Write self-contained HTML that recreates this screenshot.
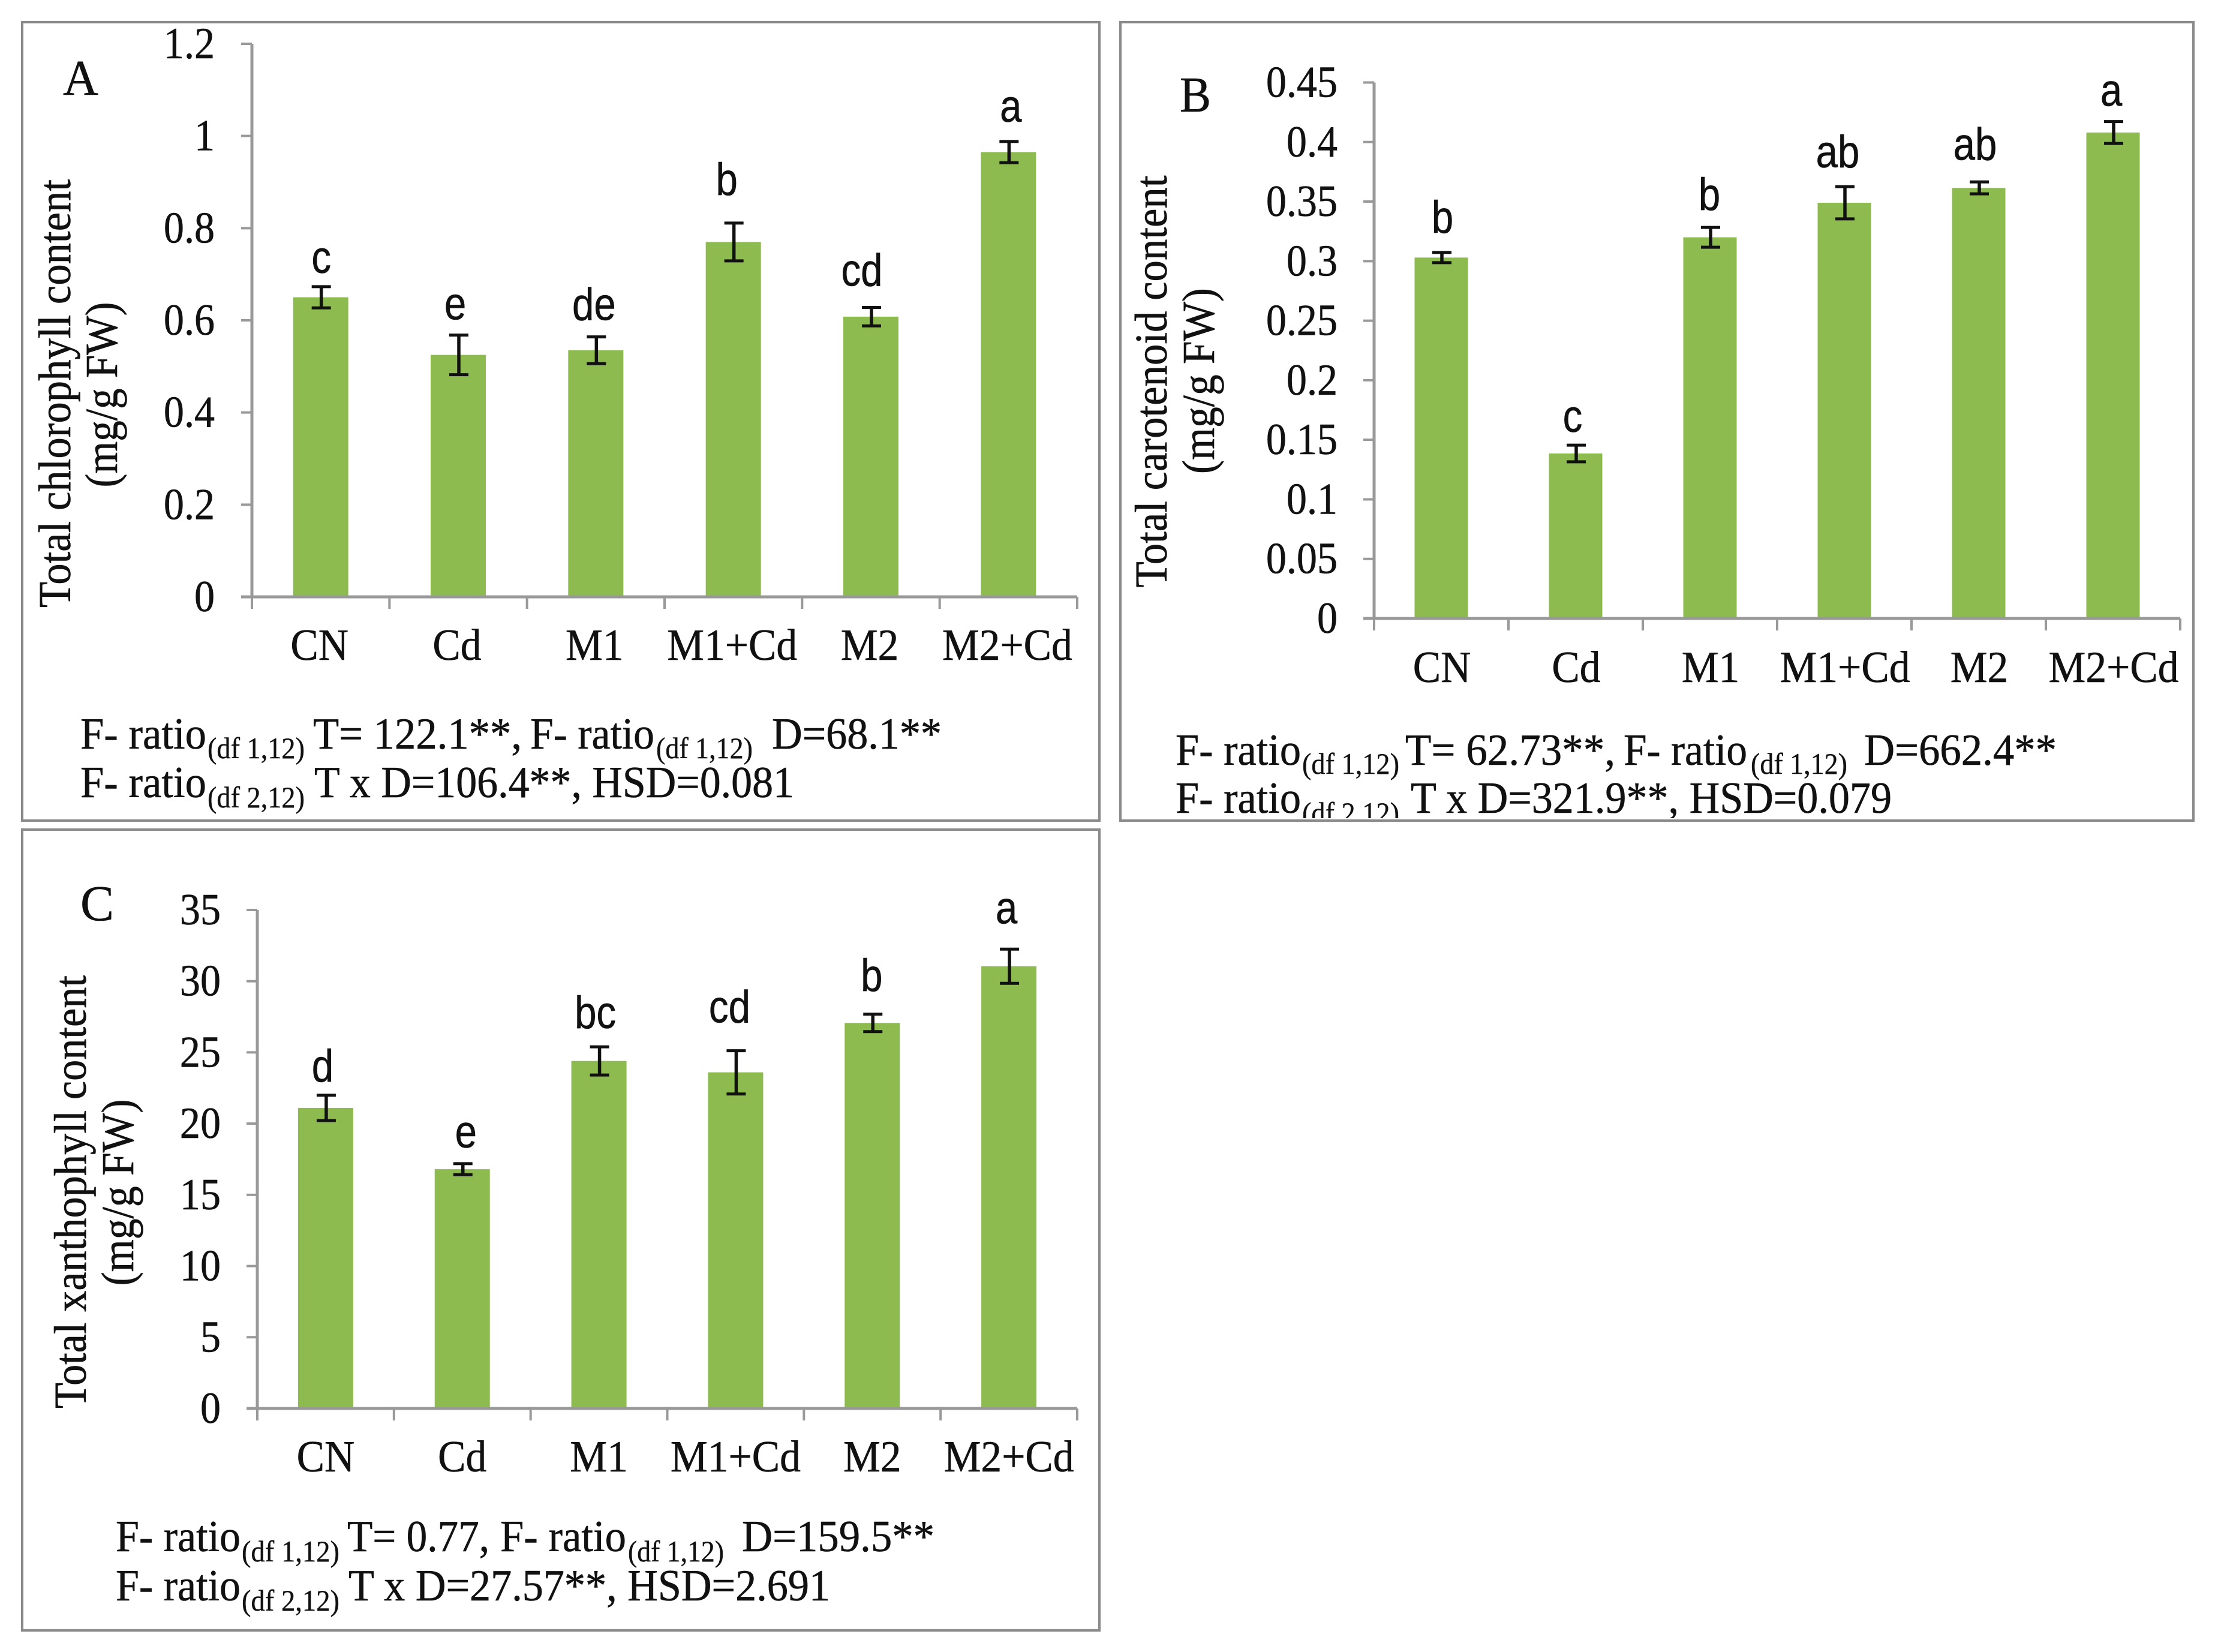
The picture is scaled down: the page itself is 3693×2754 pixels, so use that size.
<!DOCTYPE html>
<html lang="en">
<head>
<meta charset="utf-8">
<title>Pigment content charts</title>
<style>
html,body{margin:0;padding:0;background:#fff;}
svg{display:block;}
.s{font-family:"Liberation Serif",serif;fill:#111;stroke:#111;stroke-width:0.6px;}
.st{font-family:"Liberation Serif",serif;fill:#111;font-size:74px;stroke:#111;stroke-width:0.6px;}
.sb{font-family:"Liberation Serif",serif;fill:#111;font-size:50px;stroke:#111;stroke-width:0.4px;}
.ttl{font-family:"Liberation Serif",serif;fill:#111;font-size:76px;stroke:#111;stroke-width:0.6px;}
.pl{font-family:"Liberation Serif",serif;fill:#111;font-size:84px;stroke:#111;stroke-width:0.6px;}
</style>
</head>
<body>
<svg id="fig" xmlns="http://www.w3.org/2000/svg" width="3693" height="2754" viewBox="0 0 3693 2754">
<defs><clipPath id="clipB"><rect x="1868" y="37" width="1789" height="1327"/></clipPath></defs>
<rect x="0" y="0" width="3693" height="2754" fill="#fff"/>

<g id="panelA">
<text class="pl" x="105" y="158" textLength="59" lengthAdjust="spacingAndGlyphs">A</text>
<text class="ttl" transform="rotate(-90 117 656)" x="117" y="656" text-anchor="middle" textLength="714" lengthAdjust="spacingAndGlyphs">Total chlorophyll content</text>
<text class="ttl" transform="rotate(-90 195 658)" x="195" y="658" text-anchor="middle" textLength="309" lengthAdjust="spacingAndGlyphs">(mg/g FW)</text>
<g>
<text class="st" x="134" y="1248" textLength="210" lengthAdjust="spacingAndGlyphs">F- ratio</text>
<text class="sb" x="346" y="1264" textLength="162" lengthAdjust="spacingAndGlyphs">(df 1,12)</text>
<text class="st" x="522" y="1248" textLength="348" lengthAdjust="spacingAndGlyphs">T= 122.1**,</text>
<text class="st" x="884" y="1248" textLength="207" lengthAdjust="spacingAndGlyphs">F- ratio</text>
<text class="sb" x="1094" y="1264" textLength="161" lengthAdjust="spacingAndGlyphs">(df 1,12)</text>
<text class="st" x="1287" y="1248" textLength="283" lengthAdjust="spacingAndGlyphs">D=68.1**</text>
<text class="st" x="134" y="1329" textLength="210" lengthAdjust="spacingAndGlyphs">F- ratio</text>
<text class="sb" x="346" y="1346" textLength="162" lengthAdjust="spacingAndGlyphs">(df 2,12)</text>
<text class="st" x="524" y="1329" textLength="800" lengthAdjust="spacingAndGlyphs">T x D=106.4**, HSD=0.081</text>
</g>
<rect x="37" y="37" width="1796" height="1331" fill="none" stroke="#8a8a8a" stroke-width="4"/>
</g>

<g id="panelB">
<text class="pl" x="1967" y="186" textLength="52" lengthAdjust="spacingAndGlyphs">B</text>
<text class="ttl" transform="rotate(-90 1945 636)" x="1945" y="636" text-anchor="middle" textLength="687" lengthAdjust="spacingAndGlyphs">Total carotenoid content</text>
<text class="ttl" transform="rotate(-90 2024 635)" x="2024" y="635" text-anchor="middle" textLength="310" lengthAdjust="spacingAndGlyphs">(mg/g FW)</text>
<g clip-path="url(#clipB)">
<text class="st" x="1960" y="1275" textLength="209" lengthAdjust="spacingAndGlyphs">F- ratio</text>
<text class="sb" x="2171" y="1290" textLength="162" lengthAdjust="spacingAndGlyphs">(df 1,12)</text>
<text class="st" x="2343" y="1275" textLength="350" lengthAdjust="spacingAndGlyphs">T= 62.73**,</text>
<text class="st" x="2707" y="1275" textLength="206" lengthAdjust="spacingAndGlyphs">F- ratio</text>
<text class="sb" x="2919" y="1290" textLength="161" lengthAdjust="spacingAndGlyphs">(df 1,12)</text>
<text class="st" x="3108" y="1275" textLength="321" lengthAdjust="spacingAndGlyphs">D=662.4**</text>
<text class="st" x="1960" y="1355" textLength="209" lengthAdjust="spacingAndGlyphs">F- ratio</text>
<text class="sb" x="2171" y="1372" textLength="162" lengthAdjust="spacingAndGlyphs">(df 2,12)</text>
<text class="st" x="2352" y="1355" textLength="802" lengthAdjust="spacingAndGlyphs">T x D=321.9**, HSD=0.079</text>
</g>
<rect x="1868" y="37" width="1789" height="1331" fill="none" stroke="#8a8a8a" stroke-width="4"/>
</g>

<g id="panelC">
<text class="pl" x="134" y="1534" textLength="56" lengthAdjust="spacingAndGlyphs">C</text>
<text class="ttl" transform="rotate(-90 143 1987)" x="143" y="1987" text-anchor="middle" textLength="722" lengthAdjust="spacingAndGlyphs">Total xanthophyll content</text>
<text class="ttl" transform="rotate(-90 222 1988)" x="222" y="1988" text-anchor="middle" textLength="311" lengthAdjust="spacingAndGlyphs">(mg/g FW)</text>
<g>
<text class="st" x="193" y="2586" textLength="208" lengthAdjust="spacingAndGlyphs">F- ratio</text>
<text class="sb" x="403" y="2603" textLength="163" lengthAdjust="spacingAndGlyphs">(df 1,12)</text>
<text class="st" x="579" y="2586" textLength="237" lengthAdjust="spacingAndGlyphs">T= 0.77,</text>
<text class="st" x="834" y="2586" textLength="210" lengthAdjust="spacingAndGlyphs">F- ratio</text>
<text class="sb" x="1047" y="2603" textLength="160" lengthAdjust="spacingAndGlyphs">(df 1,12)</text>
<text class="st" x="1237" y="2586" textLength="321" lengthAdjust="spacingAndGlyphs">D=159.5**</text>
<text class="st" x="193" y="2668" textLength="208" lengthAdjust="spacingAndGlyphs">F- ratio</text>
<text class="sb" x="403" y="2685" textLength="163" lengthAdjust="spacingAndGlyphs">(df 2,12)</text>
<text class="st" x="581" y="2668" textLength="803" lengthAdjust="spacingAndGlyphs">T x D=27.57**, HSD=2.691</text>
</g>
<rect x="37" y="1383" width="1796" height="1335" fill="none" stroke="#8a8a8a" stroke-width="4"/>
</g>
</svg>

<script>
const categories = ['CN', 'Cd', 'M1', 'M1+Cd', 'M2', 'M2+Cd'];

const yTickLabelsA = ['0', '0.2', '0.4', '0.6', '0.8', '1', '1.2'];
const valuesA = [0.65, 0.525, 0.535, 0.77, 0.608, 0.965];
const errorsA = [0.023, 0.043, 0.029, 0.041, 0.02, 0.023];
const lettersA = ['c', 'e', 'de', 'b', 'cd', 'a'];

const yTickLabelsB = ['0', '0.05', '0.1', '0.15', '0.2', '0.25', '0.3', '0.35', '0.4', '0.45'];
const valuesB = [0.303, 0.1385, 0.32, 0.349, 0.3615, 0.408];
const errorsB = [0.0043, 0.007, 0.0083, 0.0135, 0.005, 0.0092];
const lettersB = ['b', 'c', 'b', 'ab', 'ab', 'a'];

const yTickLabelsC = ['0', '5', '10', '15', '20', '25', '30', '35'];
const valuesC = [21.1, 16.8, 24.4, 23.6, 27.07, 31.05];
const errorsC = [0.89, 0.39, 0.99, 1.52, 0.61, 1.2];
const lettersC = ['d', 'e', 'bc', 'cd', 'b', 'a'];

const NS = 'http://www.w3.org/2000/svg';

function mk(tag, attrs, parent) {
  const el = document.createElementNS(NS, tag);
  for (const k in attrs) el.setAttribute(k, attrs[k]);
  parent.appendChild(el);
  return el;
}

function drawPanel(parentId, layout, ticks, vals, errs, lets) {
  const parent = document.getElementById(parentId);
  const g = mk('g', {}, parent);
  
  
  const yMax = parseFloat(ticks[ticks.length - 1]);
  const yScale = v => layout.y0 - (v / yMax) * (layout.y0 - layout.yTop);
  const band = (layout.xRight - layout.x0) / categories.length;
  const xCenter = i => layout.x0 + band * (i + 0.5);
  const axisColor = '#999999';

  categories.forEach((c, i) => {
    const bar = mk('rect', {
      x: xCenter(i) - layout.barW / 2, y: yScale(vals[i]),
      width: layout.barW, height: layout.y0 - yScale(vals[i]), fill: '#8DBB4F'
    }, g);
    
    
  });

  const yAxis = mk('line', {x1: layout.x0, x2: layout.x0, y1: layout.yTop, y2: layout.y0, stroke: axisColor, 'stroke-width': 5}, g);
  
  
  const xAxis = mk('line', {x1: layout.x0 - 18, x2: layout.xRight, y1: layout.y0, y2: layout.y0, stroke: axisColor, 'stroke-width': 5}, g);
  
  

  ticks.forEach(label => {
    const y = yScale(parseFloat(label));
    const tick = mk('line', {x1: layout.x0 - 18, x2: layout.x0, y1: y, y2: y, stroke: axisColor, 'stroke-width': 4}, g);
    
    
    const t = mk('text', {transform: 'translate(' + layout.tickRight + ' ' + (y + 24) + ') scale(0.92 1)', 'text-anchor': 'end', 'font-size': 74, class: 's'}, g);
    t.textContent = label;
    
    
  });

  for (let i = 0; i <= categories.length; i++) {
    const x = layout.x0 + band * i;
    const tick = mk('line', {x1: x, x2: x, y1: layout.y0, y2: layout.y0 + 20, stroke: axisColor, 'stroke-width': 4}, g);
    
    
  }

  categories.forEach((c, i) => {
    const t = mk('text', {transform: 'translate(' + (xCenter(i) + layout.catDx) + ' ' + layout.catY + ') scale(0.94 1)', 'text-anchor': 'middle', 'font-size': 74, class: 's'}, g);
    t.textContent = c;
    
    
  });

  vals.forEach((v, i) => {
    const x = xCenter(i) + 1;
    const hi = yScale(v + errs[i]);
    const lo = yScale(v - errs[i]);
    const eg = mk('g', {stroke: '#111', fill: 'none'}, g);
    
    
    mk('line', {x1: x, x2: x, y1: hi, y2: lo, 'stroke-width': 5.5}, eg);
    mk('line', {x1: x - 16, x2: x + 16, y1: hi, y2: hi, 'stroke-width': 5}, eg);
    mk('line', {x1: x - 16, x2: x + 16, y1: lo, y2: lo, 'stroke-width': 5}, eg);

    const off = layout.letterOffsets[i];
    const t = mk('text', {
      transform: 'translate(' + (xCenter(i) + off[0]) + ' ' + (hi - off[1]) + ') scale(0.86 1)', 'text-anchor': 'middle',
      'font-size': 76, 'font-family': '"Liberation Sans", sans-serif', fill: '#111', stroke: '#111', 'stroke-width': 0.6
    }, g);
    t.textContent = lets[i];
    
    
  });
}

drawPanel('panelA', {
  x0: 420, xRight: 1796, yTop: 73, y0: 995, barW: 92, tickRight: 358, catDx: -2, catY: 1100,
  letterOffsets: [[1, 23], [-5, 26], [-3, 28], [-11, 47], [-15, 36], [4, 33]]
}, yTickLabelsA, valuesA, errorsA, lettersA);

drawPanel('panelB', {
  x0: 2291, xRight: 3635, yTop: 137.5, y0: 1031, barW: 89, tickRight: 2230, catDx: 1, catY: 1137,
  letterOffsets: [[2, 33], [-5, 22], [-1, 29], [-11, 32], [-6, 37], [-3, 26]]
}, yTickLabelsB, valuesB, errorsB, lettersB);

drawPanel('panelC', {
  x0: 429, xRight: 1796, yTop: 1517, y0: 2348, barW: 92, tickRight: 368, catDx: 0, catY: 2453,
  letterOffsets: [[-5, 23], [6, 27], [-6, 31], [-10, 47], [-1, 39], [-4, 43]]
}, yTickLabelsC, valuesC, errorsC, lettersC);
</script>
</body>
</html>
